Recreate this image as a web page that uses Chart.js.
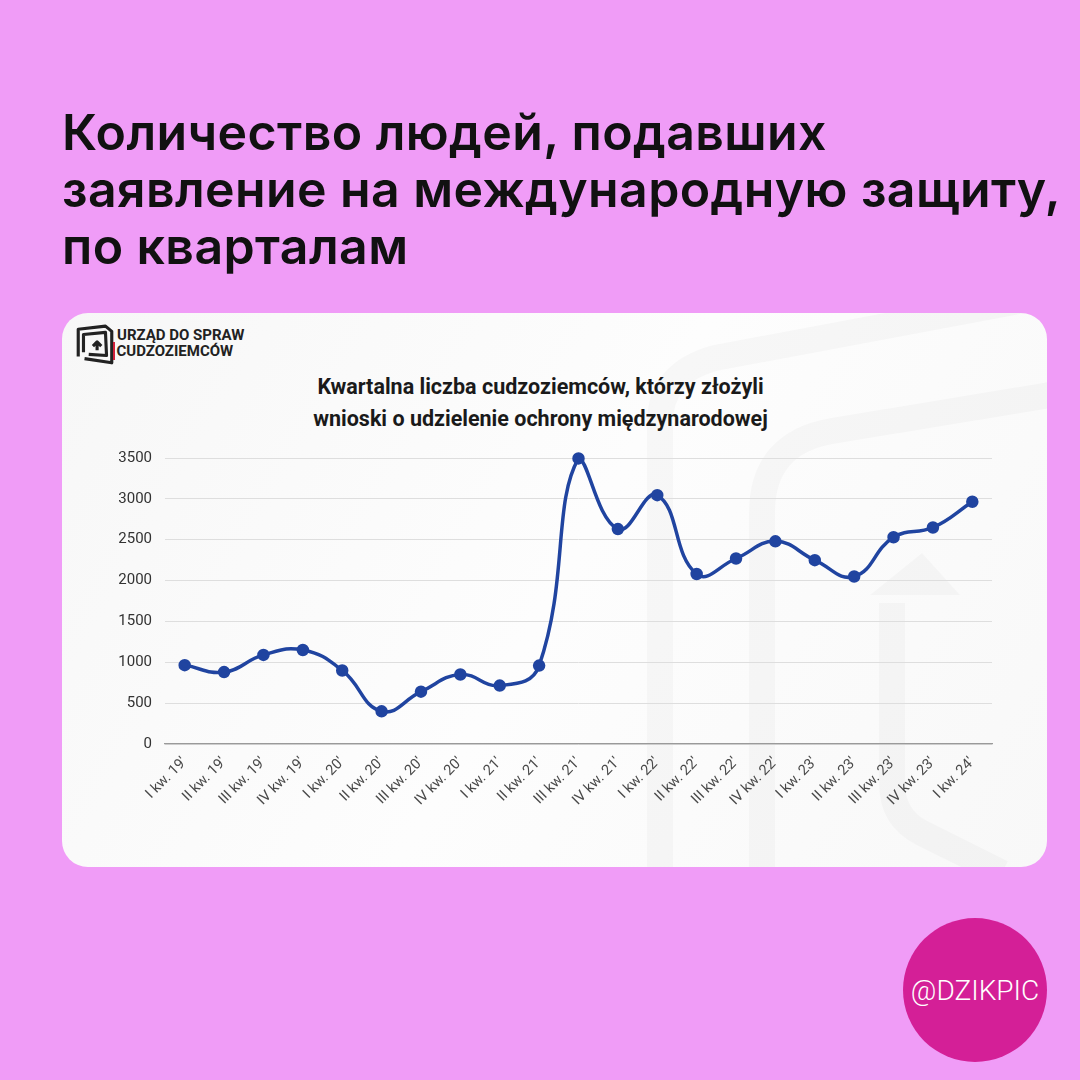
<!DOCTYPE html>
<html>
<head>
<meta charset="utf-8">
<script src="https://cdn.jsdelivr.net/npm/chart.js@4/dist/chart.umd.min.js"></script>
<style>
  html, body { margin: 0; padding: 0; }
  body { width: 1080px; height: 1080px; background: #f09cf7; position: relative; overflow: hidden; font-family: Inter, "Open Sans", sans-serif; }
  #headline { position: absolute; left: 62px; top: 104px; margin: 0; font-size: 50px; font-weight: 600; line-height: 57px; color: #111; letter-spacing: 0.4px; }
  #card { position: absolute; left: 62px; top: 313px; width: 985px; height: 554px; border-radius: 26px; background: linear-gradient(120deg, #f7f7f7, #fdfdfd 50%, #f8f8f8); overflow: hidden; }
  #mark { position: absolute; left: 0; top: 0; }
  #logo { position: absolute; left: 12px; top: 10px; }
  #logoText { position: absolute; left: 55px; top: 14px; font-family: Roboto, sans-serif; font-weight: 700; font-size: 15px; line-height: 16px; color: #222; }
  #logoText span { border-left: 2.5px solid #d0203a; padding-left: 2px; margin-left: -4.5px; }
  #chartTitle { position: absolute; left: 0; width: 985px; top: 58px; text-align: center; font-family: Roboto, sans-serif; font-weight: 700; font-size: 21.5px; line-height: 32px; color: #1a1a1a; margin-left: -14px; }
  #wrap { position: absolute; left: 28px; top: 123px; width: 910px; height: 390px; }
  #badge { position: absolute; left: 903px; top: 918px; width: 144px; height: 144px; border-radius: 50%; background: #d41f97; color: #fff; font-family: Roboto, sans-serif; font-weight: 300; font-size: 28px; display: flex; align-items: center; justify-content: center; }
</style>
</head>
<body>
<h1 id="headline">Количество людей, подавших<br>заявление на международную защиту,<br>по кварталам</h1>

<div id="card">
  <svg id="mark" width="985" height="554">
    <g fill="none" stroke="rgba(0,0,0,0.022)" stroke-width="26" stroke-linejoin="round">
      <path d="M598 560 L598 110 Q598 60 653 45 L1000 -20"/>
      <path d="M700 560 L700 200 Q700 130 770 118 L1000 80"/>
      <path d="M940 560 L860 520 Q830 505 830 470 L830 290"/>
    </g>
    <path d="M808 282 L860 240 L898 282 Z" fill="rgba(0,0,0,0.022)"/>
  </svg>
  <svg id="logo" width="42" height="44" viewBox="0 0 40 42">
    <g fill="none" stroke="#222" stroke-width="3" stroke-linejoin="round">
      <path d="M4 32 L4 6 L30 3 L36 8 L36 38 L10 34"/>
      <path d="M9 28 L9 11 L30 9 L31 31 L14 30"/>
      <path d="M22 26 L22 19 M18 22 L22 18 L26 22"/>
    </g>
  </svg>
  <div id="logoText">URZĄD DO SPRAW<br><span>CUDZOZIEMCÓW</span></div>
  <div id="chartTitle">Kwartalna liczba cudzoziemców, którzy złożyli<br>wnioski o udzielenie ochrony międzynarodowej</div>
  <div id="wrap"><canvas id="chart"></canvas></div>
</div>

<div id="badge">@DZIKPIC</div>

<script>
// quarters, Q1 2019 .. Q1 2024
const quarters = [
  "I kw. 19'", "II kw. 19'", "III kw. 19'", "IV kw. 19'",
  "I kw. 20'", "II kw. 20'", "III kw. 20'", "IV kw. 20'",
  "I kw. 21'", "II kw. 21'", "III kw. 21'", "IV kw. 21'",
  "I kw. 22'", "II kw. 22'", "III kw. 22'", "IV kw. 22'",
  "I kw. 23'", "II kw. 23'", "III kw. 23'", "IV kw. 23'",
  "I kw. 24'"
];
const applicants = [
  965, 880, 1090, 1150,
  900, 400, 640, 850,
  715, 960, 3495, 2630,
  3045, 2080, 2270, 2480,
  2250, 2050, 2530, 2650,
  2965
];
const yTicks = [0, 500, 1000, 1500, 2000, 2500, 3000, 3500];

const lineColor = '#2044a0';

new Chart(document.getElementById('chart').getContext('2d'), {
  type: 'line',
  data: {
    labels: quarters,
    datasets: [{
      data: applicants,
      borderColor: lineColor,
      backgroundColor: lineColor,
      borderWidth: 3.5,
      pointRadius: 4.5,
      pointHoverRadius: 4.5,
      tension: 0.45,
      clip: false
    }]
  },
  options: {
    responsive: true,
    maintainAspectRatio: false,
    animation: false,
    layout: { padding: { top: 10, right: 0, left: 0, bottom: 0 } },
    plugins: { legend: { display: false }, tooltip: { enabled: false } },
    scales: {
      x: {
        offset: true,
        grid: { display: false },
        border: { color: '#9a9a9a', width: 1.3 },
        ticks: {
          color: '#4a4a4a',
          font: { family: 'Roboto', size: 14.5 },
          minRotation: 45,
          maxRotation: 45,
          padding: 2,
          autoSkip: false
        },
        afterFit: function (s) { s.height = 82; }
      },
      y: {
        min: 0,
        max: 3500,
        afterBuildTicks: function (s) { s.ticks = yTicks.map(v => ({ value: v })); },
        grid: { color: '#dedede', lineWidth: 1, drawTicks: false },
        border: { display: false },
        ticks: {
          color: '#333',
          font: { family: 'Roboto', size: 15 },
          padding: 13,
          callback: function (v) { return String(v); }
        },
        afterFit: function (s) { s.width = 75; }
      }
    }
  }
});
</script>
</body>
</html>
